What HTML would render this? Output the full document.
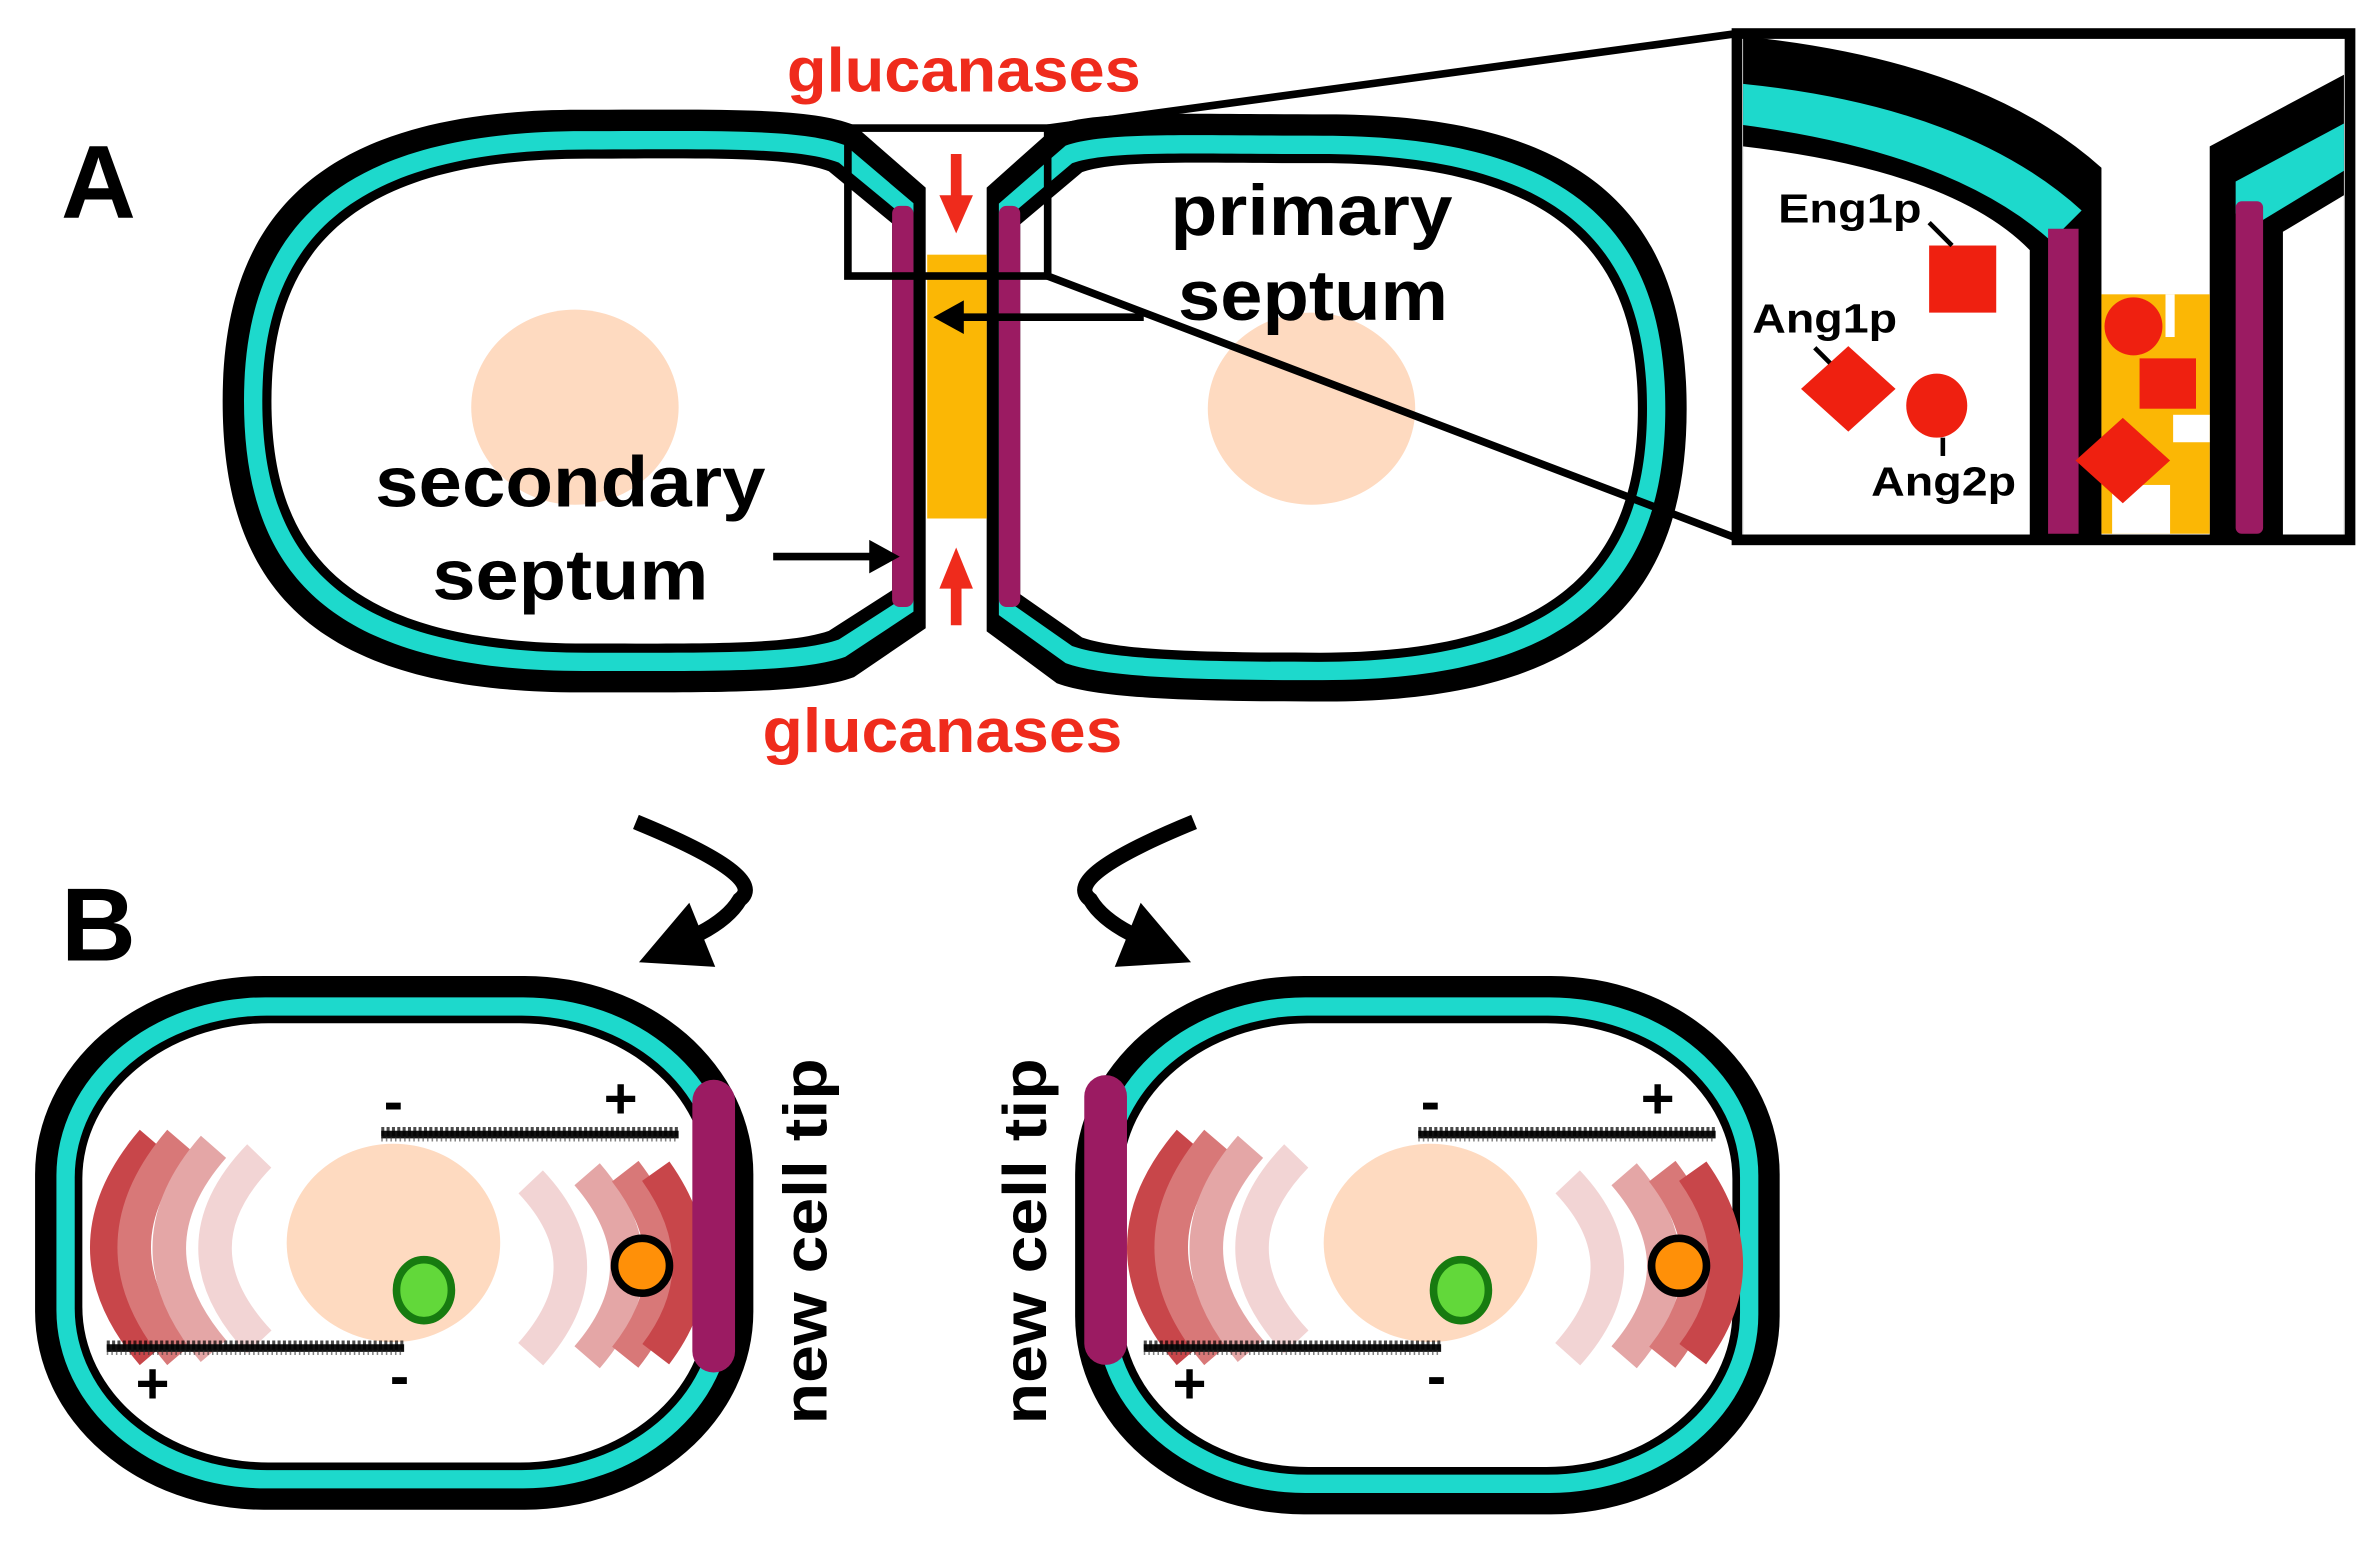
<!DOCTYPE html>
<html><head><meta charset="utf-8"><style>html,body{margin:0;padding:0;background:#fff}svg{display:block}</style></head>
<body>
<svg width="2379" height="1541" viewBox="0 0 1560 1010.5" preserveAspectRatio="none" xmlns="http://www.w3.org/2000/svg" font-family="Liberation Sans, sans-serif" font-weight="bold">
<defs>
<path id="cl" d="M607,123 L560,82 C530,70 470,72 380,72 C200,72 146,150 146,263 C146,380 200,454 380,454 C470,454 530,455 560,444 L607,412 Z"/>
<path id="cr" d="M647,123 L693,82 C720,72 780,75 870,75 C1050,75 1106,150 1106,268 C1106,385 1050,460 870,460 C780,460 720,458 693,448 L647,414 Z"/>
<g id="mt"><line x1="0" y1="0" x2="195" y2="0" stroke="#111" stroke-width="5"/><line x1="0" y1="-2" x2="195" y2="-2" stroke="#000" stroke-width="6" stroke-dasharray="2 1.5" opacity=".7"/><line x1="0" y1="3" x2="195" y2="3" stroke="#333" stroke-width="3" stroke-dasharray="1 2" opacity=".6"/></g>
<g id="inner">
<g fill="none" stroke-width="22" stroke-linecap="butt">
<path d="M100,748 Q40,818 100,888" stroke="#c8464a"/>
<path d="M118,748 Q58,818 118,888" stroke="#d87878"/>
<path d="M140,752 Q82,818 140,886" stroke="#e4a6a6"/>
<path d="M170,758 Q112,818 170,880" stroke="#f2d4d4"/>
</g>
<ellipse cx="258" cy="815" rx="70" ry="65" fill="#fedac0"/>
<g fill="none" stroke-width="22" stroke-linecap="butt">
<path d="M348,775 Q400,830 348,888" stroke="#f2d4d4"/>
<path d="M385,770 Q437,830 385,890" stroke="#e4a6a6"/>
<path d="M410,768 Q458,830 410,890" stroke="#d87878"/>
<path d="M430,768 Q474,830 430,888" stroke="#c8464a"/>
</g>
<ellipse cx="278" cy="846" rx="18" ry="20" fill="#62d83a" stroke="#177b10" stroke-width="5"/>
<circle cx="421" cy="830" r="18" fill="#ff9008" stroke="#000" stroke-width="5"/>
<use href="#mt" transform="translate(250,744)"/>
<use href="#mt" transform="translate(70,884)"/>
<text x="258" y="735" font-size="38" text-anchor="middle">-</text>
<text x="407" y="733" font-size="38" text-anchor="middle">+</text>
<text x="100" y="920" font-size="38" text-anchor="middle">+</text>
<text x="262" y="915" font-size="38" text-anchor="middle">-</text>
</g>
</defs>

<!-- Panel A -->
<text x="40" y="143" font-size="68">A</text>
<use href="#cl" fill="#000"/>
<use href="#cl" fill="#1dd9cc" transform="matrix(.95228,0,0,.9267,20.97,19.28)"/>
<use href="#cl" fill="#000" transform="matrix(.91323,0,0,.86387,38.67,35.8)"/>
<use href="#cl" fill="#fff" transform="matrix(.88286,0,0,.83246,49.1,44.06)"/>
<use href="#cr" fill="#000"/>
<use href="#cr" fill="#1dd9cc" transform="matrix(.95207,0,0,.92727,39.01,19.45)"/>
<use href="#cr" fill="#000" transform="matrix(.91285,0,0,.86494,70.39,36.13)"/>
<use href="#cr" fill="#fff" transform="matrix(.88235,0,0,.83377,98.12,44.47)"/>
<rect x="585" y="135" width="14" height="263" rx="5" fill="#9b1b62"/>
<rect x="655" y="135" width="14" height="263" rx="5" fill="#9b1b62"/>
<rect x="608" y="167" width="39" height="173" fill="#fbb705"/>
<ellipse cx="377" cy="267" rx="68" ry="64" fill="#fedac0"/>
<ellipse cx="860" cy="268" rx="68" ry="63" fill="#fedac0"/>
<line x1="627" y1="101" x2="627" y2="132" stroke="#ef2b1c" stroke-width="7"/>
<polygon points="616,128 638,128 627,153" fill="#ef2b1c"/>
<line x1="627" y1="410" x2="627" y2="382" stroke="#ef2b1c" stroke-width="7"/>
<polygon points="616,386 638,386 627,359" fill="#ef2b1c"/>
<text x="632" y="60" font-size="41" fill="#ef2b1c" text-anchor="middle" textLength="232" lengthAdjust="spacingAndGlyphs">glucanases</text>
<text x="618" y="493" font-size="41" fill="#ef2b1c" text-anchor="middle" textLength="236" lengthAdjust="spacingAndGlyphs">glucanases</text>
<text x="860" y="154" font-size="47" text-anchor="middle" textLength="185" lengthAdjust="spacingAndGlyphs">primary</text>
<text x="861" y="210" font-size="47" text-anchor="middle" textLength="177" lengthAdjust="spacingAndGlyphs">septum</text>
<line x1="750" y1="208" x2="628" y2="208" stroke="#000" stroke-width="5"/>
<polygon points="612,208 632,197 632,219" fill="#000"/>
<text x="374" y="332" font-size="47" text-anchor="middle" textLength="256" lengthAdjust="spacingAndGlyphs">secondary</text>
<text x="374" y="393" font-size="47" text-anchor="middle" textLength="181" lengthAdjust="spacingAndGlyphs">septum</text>
<line x1="507" y1="365" x2="575" y2="365" stroke="#000" stroke-width="5"/>
<polygon points="590,365 570,354 570,376" fill="#000"/>
<rect x="556" y="84" width="131" height="97" fill="none" stroke="#000" stroke-width="5"/>
<line x1="687" y1="84" x2="1139" y2="22" stroke="#000" stroke-width="5"/>
<line x1="687" y1="181" x2="1139" y2="353" stroke="#000" stroke-width="5"/>

<!-- Inset -->
<rect x="1143" y="24" width="394" height="328" fill="#fff"/>
<path d="M1143,24 L1145,24 Q1300,40 1378,110 L1378,352 L1143,352 Z" fill="#000"/>
<path d="M1143,55 Q1290,70 1365,138 L1345,158 Q1280,100 1143,82 Z" fill="#1dd9cc"/>
<path d="M1143,96 Q1280,112 1331,164 L1331,352 L1143,352 Z" fill="#fff"/>
<rect x="1343" y="150" width="20" height="200" fill="#9b1b62"/>
<path d="M1449,96 L1537,49 L1537,352 L1449,352 Z" fill="#000"/>
<path d="M1466,119 L1537,81 L1537,112 L1481,146 L1466,140 Z" fill="#1dd9cc"/>
<path d="M1497,152 L1537,128 L1537,352 L1497,352 Z" fill="#fff"/>
<rect x="1466" y="132" width="18" height="218" rx="4" fill="#9b1b62"/>
<rect x="1378" y="193" width="71" height="157" fill="#fbb705"/>
<rect x="1420" y="193" width="6" height="28" fill="#fff"/>
<rect x="1425" y="272" width="24" height="18" fill="#fff"/>
<rect x="1385" y="318" width="38" height="32" fill="#fff"/>
<rect x="1139" y="22" width="402" height="332" fill="none" stroke="#000" stroke-width="7"/>
<rect x="1265" y="161" width="44" height="44" fill="#ef2010"/>
<polygon points="1212,227 1243,255 1212,283 1181,255" fill="#ef2010"/>
<ellipse cx="1270" cy="266" rx="20" ry="21" fill="#ef2010"/>
<circle cx="1399" cy="214" r="19" fill="#ef2010"/>
<rect x="1403" y="235" width="37" height="33" fill="#ef2010"/>
<polygon points="1392,274 1423,302 1392,330 1361,302" fill="#ef2010"/>
<line x1="1265" y1="146" x2="1280" y2="161" stroke="#000" stroke-width="3"/>
<line x1="1190" y1="228" x2="1200" y2="238" stroke="#000" stroke-width="3"/>
<line x1="1274" y1="287" x2="1274" y2="299" stroke="#000" stroke-width="3"/>
<text x="1166" y="146" font-size="27" textLength="94" lengthAdjust="spacingAndGlyphs">Eng1p</text>
<text x="1149" y="218" font-size="27" textLength="95" lengthAdjust="spacingAndGlyphs">Ang1p</text>
<text x="1227" y="325" font-size="27" textLength="95" lengthAdjust="spacingAndGlyphs">Ang2p</text>

<!-- Panel B -->
<text x="40" y="630" font-size="68">B</text>
<g id="carrow">
<path d="M417,539 Q505,575 485,590 Q478,602 459,612" fill="none" stroke="#000" stroke-width="10"/>
<polygon points="419,631 469,634 452,592" fill="#000"/>
</g>
<use href="#carrow" transform="matrix(-1,0,0,1,1200,0)"/>

<rect x="23" y="640" width="471" height="350" rx="150" ry="130" fill="#000"/>
<rect x="37" y="654" width="443" height="322" rx="137" ry="117" fill="#1dd9cc"/>
<rect x="49" y="666" width="419" height="298" rx="126" ry="106" fill="#000"/>
<rect x="54" y="671" width="409" height="288" rx="122" ry="102" fill="#fff"/>
<use href="#inner"/>
<rect x="454" y="708" width="28" height="192" rx="14" fill="#9b1b62"/>
<text transform="translate(542,814) rotate(-90)" font-size="40" text-anchor="middle" textLength="240" lengthAdjust="spacingAndGlyphs">new cell tip</text>

<rect x="705" y="640" width="462" height="353" rx="150" ry="130" fill="#000"/>
<rect x="719" y="654" width="434" height="325" rx="137" ry="117" fill="#1dd9cc"/>
<rect x="731" y="666" width="410" height="301" rx="126" ry="106" fill="#000"/>
<rect x="736" y="671" width="400" height="291" rx="122" ry="102" fill="#fff"/>
<use href="#inner" transform="translate(680,0)"/>
<rect x="711" y="705" width="28" height="190" rx="14" fill="#9b1b62"/>
<text transform="translate(686,814) rotate(-90)" font-size="40" text-anchor="middle" textLength="240" lengthAdjust="spacingAndGlyphs">new cell tip</text>
</svg>
</body></html>
